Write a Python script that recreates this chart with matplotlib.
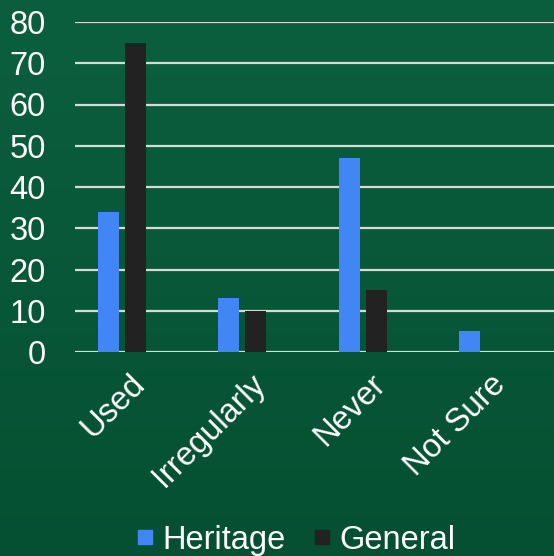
import matplotlib
matplotlib.use("Agg")
import matplotlib.pyplot as plt
from matplotlib.lines import Line2D
import numpy as np

categories = ["Used", "Irregularly", "Never", "Not Sure"]
heritage = [34, 13, 47, 5]
general = [75, 10, 15, 0]
yticks = [0, 10, 20, 30, 40, 50, 60, 70, 80]

BLUE = "#4285f4"
DARK = "#222222"
GRID = "#d9d9d9"
TOP = np.array([11, 95, 63]) / 255
BOTTOM = np.array([5, 80, 50]) / 255

plt.rcParams["font.family"] = ["Liberation Sans", "DejaVu Sans"]

fig = plt.figure(figsize=(5.54, 5.56), dpi=100)

# vertical gradient background
bg = fig.add_axes([0, 0, 1, 1], zorder=-1)
t = np.linspace(0, 1, 256)[:, None]
grad = TOP[None, None, :] * (1 - t[..., None]) + BOTTOM[None, None, :] * t[..., None]
bg.imshow(np.repeat(grad, 2, axis=1), aspect="auto", extent=[0, 1, 0, 1])
bg.axis("off")

ax = fig.add_axes([75 / 554, 1 - 352 / 556, 1 - 75 / 554, 330 / 556])
ax.patch.set_alpha(0)

x = np.arange(len(categories))
w = 0.174
off = 0.112
ax.bar(x - off, heritage, w, color=BLUE, zorder=3, label="Heritage")
ax.bar(x + off, general, w, color=DARK, zorder=3, label="General")

ax.set_xlim(-0.39, 3.59)
ax.set_ylim(0, 80)
ax.set_yticks(yticks)
for v in yticks:
    ax.axhline(v, color=GRID, lw=1.6, zorder=1)
for s in ax.spines.values():
    s.set_visible(False)
ax.tick_params(axis="y", length=0, pad=21, labelsize=23.5, labelcolor="white")
ax.tick_params(axis="x", length=0, pad=12)
ax.set_xticks(x + 0.06)
ax.set_xticklabels(categories, rotation=45, ha="right", va="top",
                   rotation_mode="anchor", fontsize=23.5, color="white")

handles = [Line2D([], [], ls="", marker="s", markersize=10.5, color=BLUE, label="Heritage"),
           Line2D([], [], ls="", marker="s", markersize=10.5, color=DARK, label="General")]
fig.legend(handles=handles, loc="lower center", bbox_to_anchor=(0.535, -0.052),
           ncol=2, frameon=False, fontsize=23.5, labelcolor="white",
           handlelength=0.45, handletextpad=0.3, columnspacing=0.9)

fig.savefig("out.png", dpi=100)
